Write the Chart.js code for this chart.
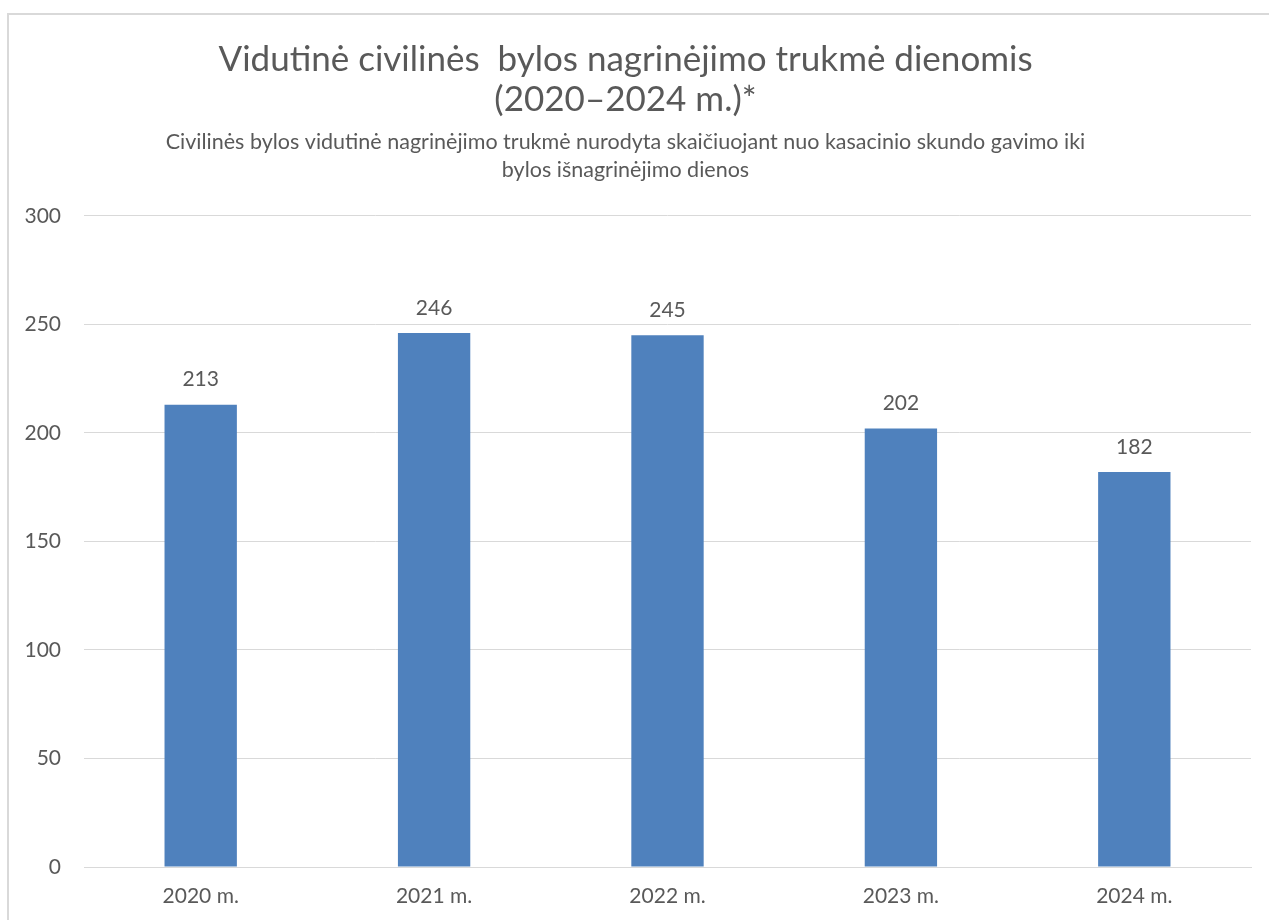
<!DOCTYPE html>
<html>
<head>
<meta charset="utf-8">
<script src="https://cdn.jsdelivr.net/npm/chart.js@4.4.1/dist/chart.umd.min.js"></script>
<style>
    html, body { margin: 0; padding: 0; background: #ffffff; overflow: hidden; }
    #wrap { position: absolute; left: 0; top: 0; width: 1269px; height: 920px; }
    #frame { position: absolute; left: 7px; top: 13px; width: 1300px; height: 960px; border-left: 2px solid #d9d9d9; border-top: 2px solid #d9d9d9; }
    canvas { position: absolute; left: 0; top: 0; }
</style>
</head>
<body>
<div id="wrap">
    <div id="frame"></div>
    <canvas id="durationChart" width="1269" height="920"></canvas>
</div>
<script>
const categories = ['2020 m.', '2021 m.', '2022 m.', '2023 m.', '2024 m.'];
const durationDays = [213, 246, 245, 202, 182];
const yTicks = [0, 50, 100, 150, 200, 250, 300];

const titleLines = ['Vidutinė civilinės  bylos nagrinėjimo trukmė dienomis', '(2020–2024 m.)*'];
const subtitleLines = [
    'Civilinės bylos vidutinė nagrinėjimo trukmė nurodyta skaičiuojant nuo kasacinio skundo gavimo iki',
    'bylos išnagrinėjimo dienos'
];

const textColor = '#595959';
const fontFamily = 'Lato, "Open Sans", sans-serif';

// draws the value above each bar
const valueLabels = {
    id: 'valueLabels',
    afterDatasetsDraw(chart) {
        const ctx = chart.ctx;
        const meta = chart.getDatasetMeta(0);
        ctx.save();
        ctx.fillStyle = textColor;
        ctx.font = '21px ' + fontFamily;
        ctx.textAlign = 'center';
        ctx.textBaseline = 'middle';
        meta.data.forEach((bar, i) => {
            ctx.fillText(String(durationDays[i]), bar.x, bar.y - 25);
        });
        ctx.restore();
    }
};

const ctx = document.getElementById('durationChart').getContext('2d');
new Chart(ctx, {
    type: 'bar',
    data: {
        labels: categories,
        datasets: [{
            data: durationDays,
            backgroundColor: '#4f81bd',
            borderWidth: 0,
            categoryPercentage: 1,
            barPercentage: 0.31
        }]
    },
    options: {
        responsive: false,
        animation: false,
        layout: {
            padding: { left: 0, right: 18, top: 0, bottom: 0 }
        },
        scales: {
            x: {
                grid: { display: false, drawTicks: false },
                border: { display: true, color: '#d9d9d9', width: 1 },
                ticks: {
                    color: textColor,
                    font: { family: fontFamily, size: 21 },
                    padding: 17
                },
                afterFit: function(scale) { scale.height = 53; }
            },
            y: {
                min: 0,
                max: 300,
                afterBuildTicks: function(scale) {
                    scale.ticks = yTicks.map(v => ({ value: v }));
                },
                grid: { color: '#d9d9d9', lineWidth: 1, drawTicks: false },
                border: { display: false },
                ticks: {
                    color: textColor,
                    font: { family: fontFamily, size: 21 },
                    padding: 23
                },
                afterFit: function(scale) { scale.width = 84; }
            }
        },
        plugins: {
            legend: { display: false },
            tooltip: { enabled: false },
            title: {
                display: true,
                text: titleLines,
                color: textColor,
                font: { family: fontFamily, size: 35, weight: 'normal', lineHeight: 1.143 },
                padding: { top: 40, bottom: 8 }
            },
            subtitle: {
                display: true,
                text: subtitleLines,
                color: textColor,
                font: { family: fontFamily, size: 21.5, weight: 'normal', lineHeight: 1.3 },
                padding: { top: 0, bottom: 32 }
            }
        }
    },
    plugins: [valueLabels]
});
</script>
</body>
</html>
